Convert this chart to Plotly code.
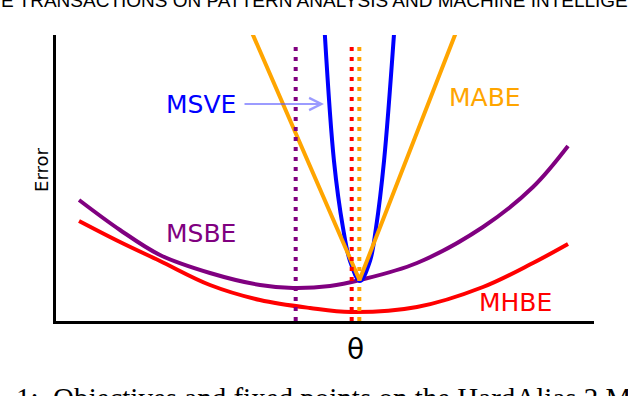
import plotly.graph_objects as go

# curve samples (theta, error)
msbe_theta = [0.428, 1.190, 1.933, 2.862, 3.792, 4.405, 5.093, 5.651, 6.710, 7.937, 8.866, 9.517]
msbe_err = [4.231, 3.182, 2.308, 1.678, 1.259, 1.154, 1.224, 1.434, 2.028, 3.287, 4.685, 6.119]

mhbe_theta = [0.428, 1.190, 1.933, 2.862, 3.792, 4.721, 5.483, 6.710, 7.937, 8.866, 9.517]
mhbe_err = [3.497, 2.762, 2.098, 1.259, 0.734, 0.455, 0.315, 0.490, 1.189, 2.028, 2.692]

mabe_theta = [3.541, 5.641, 7.524]
mabe_err = [10.52, 1.434, 10.52]

msve_theta = [4.981, 5.167, 5.335, 5.465, 5.651, 5.836, 5.948, 6.097, 6.301]
msve_err = [10.52, 5.594, 3.252, 2.098, 1.399, 2.098, 3.252, 5.594, 10.52]

# fixed points (theta) and top of the dotted markers
fixed_names = ["MSBE", "MHBE", "MABE"]
fixed_theta = [4.455, 5.496, 5.638]
fixed_top = 9.72

PURPLE = "#800080"
RED = "#ff0000"
BLUE = "#0000ff"
ORANGE = "#ffa500"
FONT = "DejaVu Sans"

fig = go.Figure()

fig.add_trace(go.Scatter(x=mhbe_theta, y=mhbe_err, mode="lines",
                         line=dict(color=RED, width=4, shape="spline")))
fig.add_trace(go.Scatter(x=msbe_theta, y=msbe_err, mode="lines",
                         line=dict(color=PURPLE, width=4, shape="spline")))
fig.add_trace(go.Scatter(x=msve_theta, y=msve_err, mode="lines",
                         line=dict(color=BLUE, width=4, shape="spline")))
fig.add_trace(go.Scatter(x=mabe_theta, y=mabe_err, mode="lines",
                         line=dict(color=ORANGE, width=4)))

for name, th, col in zip(fixed_names, fixed_theta, [PURPLE, RED, ORANGE]):
    fig.add_trace(go.Scatter(x=[th, th], y=[0, fixed_top], mode="lines",
                             line=dict(color=col, width=4, dash="4px,6px")))

labels = [
    ("MSVE", 2.695, 7.587, BLUE),
    ("MABE", 7.974, 7.832, ORANGE),
    ("MSBE", 2.695, 3.077, PURPLE),
    ("MHBE", 8.550, 0.647, RED),
]
for txt, x, y, col in labels:
    fig.add_annotation(x=x, y=y, text=txt, showarrow=False,
                       font=dict(family=FONT, size=25, color=col))

# arrow from the MSVE label to its curve
fig.add_annotation(x=4.981, y=7.587, ax=3.476, ay=7.587, axref="x", ayref="y",
                   text="", showarrow=True, arrowhead=5, arrowsize=1.2,
                   arrowwidth=2, arrowcolor="rgba(90,90,255,0.6)")

# axis titles
fig.add_annotation(x=0, y=0.528, xref="paper", yref="paper", xshift=-14,
                   xanchor="center", yanchor="middle",
                   text="Error", textangle=-90, showarrow=False,
                   font=dict(family=FONT, size=18, color="black"))
fig.add_annotation(x=0.556, y=-0.101, xref="paper", yref="paper",
                   xanchor="center", yanchor="middle",
                   text="θ", showarrow=False,
                   font=dict(family=FONT, size=28, color="black"))

# bits of the surrounding page
fig.add_annotation(x=0.4796, y=1.122, xref="paper", yref="paper",
                   xanchor="center", yanchor="middle",
                   text="E TRANSACTIONS ON PATTERN ANALYSIS AND MACHINE INTELLIGE",
                   showarrow=False,
                   font=dict(family="Liberation Sans", size=19, color="black"))
fig.add_annotation(x=-0.078, y=-0.268, xref="paper", yref="paper",
                   xanchor="left", yanchor="middle",
                   text="1:  Objectives and fixed points on the HardAlias 2 MDP.",
                   showarrow=False,
                   font=dict(family="Liberation Serif", size=29, color="black"))

fig.update_xaxes(range=[0, 10], showline=True, linecolor="black", linewidth=3,
                 showgrid=False, zeroline=False, showticklabels=False, ticks="")
fig.update_yaxes(range=[0, 10], showline=True, linecolor="black", linewidth=3,
                 showgrid=False, zeroline=False, showticklabels=False, ticks="")

fig.update_layout(
    width=628, height=396,
    margin=dict(l=56, r=34, t=35, b=75),
    showlegend=False,
    plot_bgcolor="white",
    paper_bgcolor="white",
)

fig.write_html("out.html", config={"displayModeBar": False},
               post_script="document.body.style.margin = '0';")
